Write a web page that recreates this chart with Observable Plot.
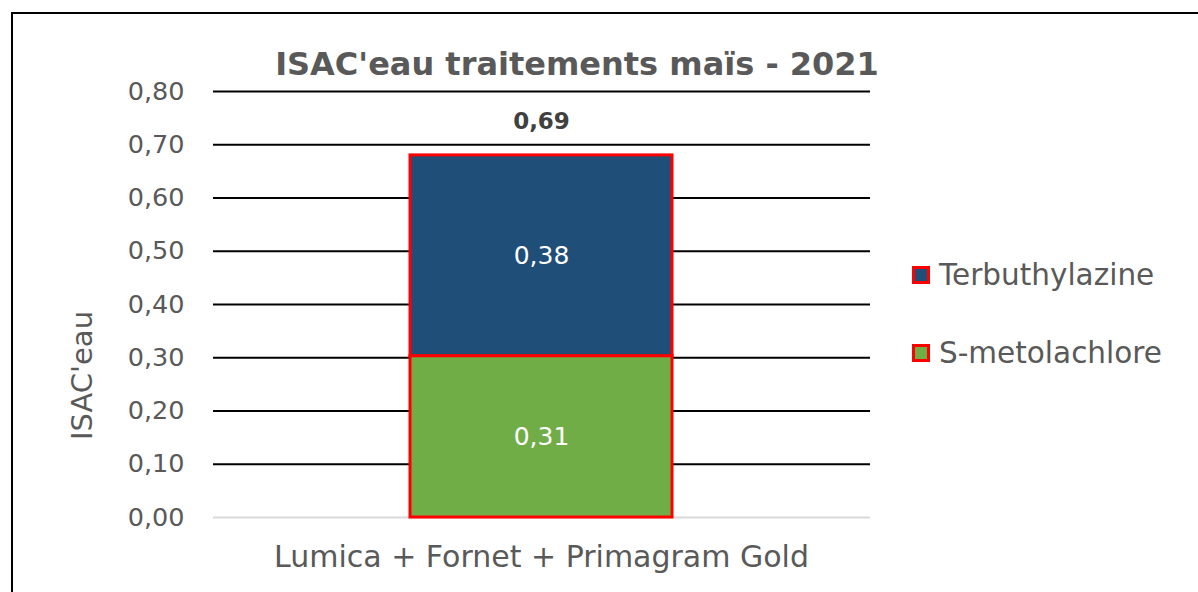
<!DOCTYPE html>
<html><head><meta charset="utf-8">
<script src="https://cdn.jsdelivr.net/npm/d3@7"></script>
<script src="https://cdn.jsdelivr.net/npm/@observablehq/plot@0.6"></script>
<style>
body{margin:0;background:#fff;}
#wrap{position:relative;width:1198px;height:592px;overflow:hidden;font-family:"DejaVu Sans",sans-serif;background:#fff;}
#frame{position:absolute;left:11px;top:12px;width:1400px;height:800px;border:2px solid #000;box-sizing:border-box;}
#chart{position:absolute;left:0;top:0;}
.leg{position:absolute;left:912px;display:flex;align-items:center;font-size:29.5px;line-height:34px;color:#595959;white-space:nowrap;}
.sw{width:18px;height:18px;box-sizing:border-box;border:3px solid #ff0000;margin-right:9px;}
</style></head>
<body><div id="wrap"><div id="frame"></div><div id="chart"></div><div id="legend"></div></div>
<script>
// ---- data ----
const categories = ["Lumica + Fornet + Primagram Gold"];
const seriesNames = ["S-metolachlore", "Terbuthylazine"];
const seriesColors = ["#70AD47", "#1F4E79"];
const smetolachlore = [0.303];
const terbuthylazine = [0.377];
const smetolachloreLabels = ["0,31"];
const terbuthylazineLabels = ["0,38"];
const totalLabels = ["0,69"];
const yTicks = [0, 0.1, 0.2, 0.3, 0.4, 0.5, 0.6, 0.7, 0.8];
const title = "ISAC'eau traitements maïs - 2021";
const yLabel = "ISAC'eau";

// ---- tables ----
const rows = [];
categories.forEach((c, i) => {
  rows.push({cat: c, series: seriesNames[0], value: smetolachlore[i], label: smetolachloreLabels[i]});
  rows.push({cat: c, series: seriesNames[1], value: terbuthylazine[i], label: terbuthylazineLabels[i]});
});
const totals = categories.map((c, i) => ({cat: c, total: smetolachlore[i] + terbuthylazine[i], label: totalLabels[i]}));

const chart = Plot.plot({
  width: 1198, height: 592,
  marginTop: 91, marginBottom: 75, marginLeft: 213, marginRight: 328,
  style: {fontFamily: "DejaVu Sans", color: "#595959", background: "transparent"},
  x: {domain: categories, padding: 0.4286, label: null},
  y: {domain: [0, 0.8], label: null},
  color: {domain: seriesNames, range: seriesColors},
  marks: [
    Plot.ruleY(yTicks.filter(d => d > 0), {stroke: "#000", strokeWidth: 2}),
    Plot.ruleY([0], {stroke: "#d9d9d9", strokeWidth: 2}),
    Plot.barY(rows, {x: "cat", y: "value", fill: "series", stroke: "#ff0000", strokeWidth: 3}),
    Plot.text(rows, Plot.stackY({x: "cat", y: "value", z: "series", text: "label", fill: "white", fontSize: 25})),
    Plot.text(totals, {x: "cat", y: "total", text: "label", dy: -34, fontWeight: "bold", fontSize: 23, fill: "#404040"}),
    Plot.axisY({ticks: yTicks, tickSize: 0, tickPadding: 29, tickFormat: d => d.toFixed(2).replace(".", ","), fontSize: 25.5, label: null}),
    Plot.axisX({tickSize: 0, tickPadding: 28, fontSize: 30, label: null}),
    Plot.text([yLabel], {frameAnchor: "left", textAnchor: "middle", lineAnchor: "middle", rotate: -90, dx: -131, dy: 71, fontSize: 29}),
    Plot.text([title], {frameAnchor: "top", lineAnchor: "top", dx: 35, dy: -39, fontSize: 32, fontWeight: "bold"})
  ]
});
document.getElementById("chart").appendChild(chart);

// ---- legend (top item first) ----
const legend = document.getElementById("legend");
const legendTops = {"Terbuthylazine": 258, "S-metolachlore": 336};
["Terbuthylazine", "S-metolachlore"].forEach(name => {
  const item = document.createElement("div");
  item.className = "leg";
  item.style.top = legendTops[name] + "px";
  const sw = document.createElement("div");
  sw.className = "sw";
  sw.style.background = seriesColors[seriesNames.indexOf(name)];
  const t = document.createElement("span");
  t.textContent = name;
  item.appendChild(sw); item.appendChild(t);
  legend.appendChild(item);
});
</script>
</body></html>
